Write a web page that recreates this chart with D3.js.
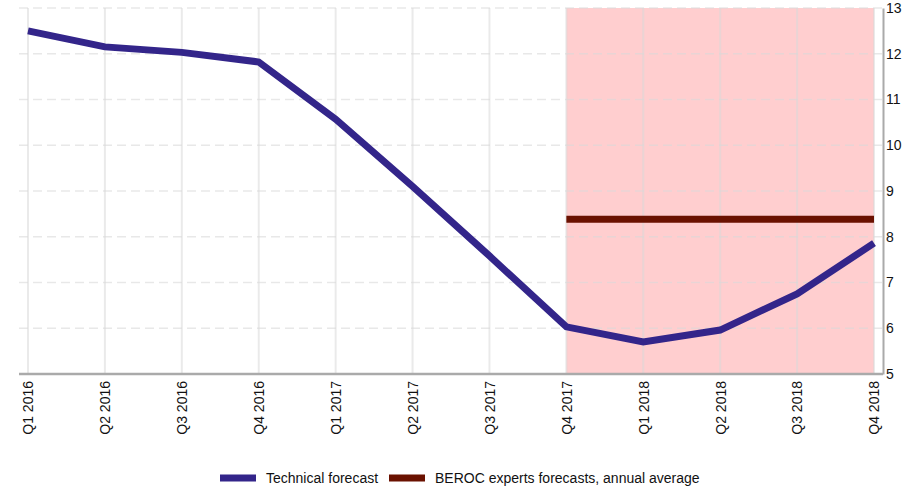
<!DOCTYPE html>
<html>
<head>
<meta charset="utf-8">
<script src="https://cdn.jsdelivr.net/npm/d3@7"></script>
<style>
  body { margin: 0; background: #fff; }
  text { font-family: "Liberation Sans", Arial, sans-serif; fill: #111; }
</style>
</head>
<body>
<div id="chart"></div>
<script>
const quarters = ["Q1 2016", "Q2 2016", "Q3 2016", "Q4 2016", "Q1 2017", "Q2 2017",
  "Q3 2017", "Q4 2017", "Q1 2018", "Q2 2018", "Q3 2018", "Q4 2018"];
const technical = [12.5, 12.15, 12.03, 11.82, 10.57, 9.1, 7.58, 6.03, 5.7, 5.96, 6.75, 7.86];
const berocQuarters = ["Q4 2017", "Q4 2018"];
const beroc = [8.38, 8.38];
const shadeFrom = "Q4 2017", shadeTo = "Q4 2018";
const yTicks = [5, 6, 7, 8, 9, 10, 11, 12, 13];

const width = 910, height = 491,
  plot = { left: 19, right: 883, top: 8, bottom: 374 },
  blue = "#33258a", red = "#6a1100";

const svg = d3.select("#chart").append("svg")
  .attr("width", width).attr("height", height);

const x = d3.scalePoint().domain(quarters).range([28, 874]);
const y = d3.scaleLinear().domain([5, 13]).range([plot.bottom, plot.top]);

// forecast band
svg.append("rect")
  .attr("x", x(shadeFrom)).attr("y", plot.top)
  .attr("width", x(shadeTo) - x(shadeFrom))
  .attr("height", plot.bottom - plot.top)
  .attr("fill", "#ffb3b5").attr("fill-opacity", 0.65);

// vertical grid
svg.append("g").selectAll("line").data(quarters).join("line")
  .attr("x1", d => x(d)).attr("x2", d => x(d))
  .attr("y1", plot.top).attr("y2", plot.bottom)
  .attr("stroke", "#d8d8d8").attr("stroke-opacity", 0.55).attr("stroke-width", 2);

// horizontal grid
svg.append("g").selectAll("line").data(yTicks.filter(d => d > 5)).join("line")
  .attr("x1", plot.left).attr("x2", plot.right)
  .attr("y1", d => y(d)).attr("y2", d => y(d))
  .attr("stroke", "#d8d8d8").attr("stroke-opacity", 0.6).attr("stroke-width", 1.5)
  .attr("stroke-dasharray", "9,5");

// right axis
const yAxis = svg.append("g")
  .attr("transform", `translate(${plot.right},0)`)
  .call(d3.axisRight(y).tickValues(yTicks).tickSize(0).tickPadding(3));
yAxis.select(".domain").attr("stroke", "#aaa").attr("stroke-width", 2);
yAxis.selectAll("text").style("font-size", "14px").attr("font-family", null);

// bottom axis
const xAxis = svg.append("g")
  .attr("transform", `translate(0,${plot.bottom})`)
  .call(d3.axisBottom(x).tickSize(0).tickPadding(0));
xAxis.select(".domain").attr("d", `M${plot.left},0H${plot.right}`)
  .attr("stroke", "#aaa").attr("stroke-width", 2.5);
xAxis.selectAll("text")
  .style("font-size", "14px").attr("font-family", null)
  .attr("text-anchor", "end")
  .attr("transform", "rotate(-90)")
  .attr("x", -7).attr("y", 0).attr("dy", "0.35em");

const line = d3.line().x(d => x(d[0])).y(d => y(d[1]));

svg.append("path")
  .datum(berocQuarters.map((q, i) => [q, beroc[i]]))
  .attr("d", line).attr("fill", "none")
  .attr("stroke", red).attr("stroke-width", 7);

svg.append("path")
  .datum(quarters.map((q, i) => [q, technical[i]]))
  .attr("d", line).attr("fill", "none")
  .attr("stroke", blue).attr("stroke-width", 7);

// legend
const legendItems = [
  { label: "Technical forecast", color: blue, x: 220 },
  { label: "BEROC experts forecasts, annual average", color: red, x: 389 }
];
const lg = svg.append("g").selectAll("g").data(legendItems).join("g")
  .attr("transform", d => `translate(${d.x},478)`);
lg.append("rect").attr("x", 0).attr("y", -3.5).attr("width", 36).attr("height", 7)
  .attr("fill", d => d.color);
lg.append("text").attr("x", 46).attr("dy", "0.35em")
  .style("font-size", "14px").text(d => d.label);
</script>
</body>
</html>
